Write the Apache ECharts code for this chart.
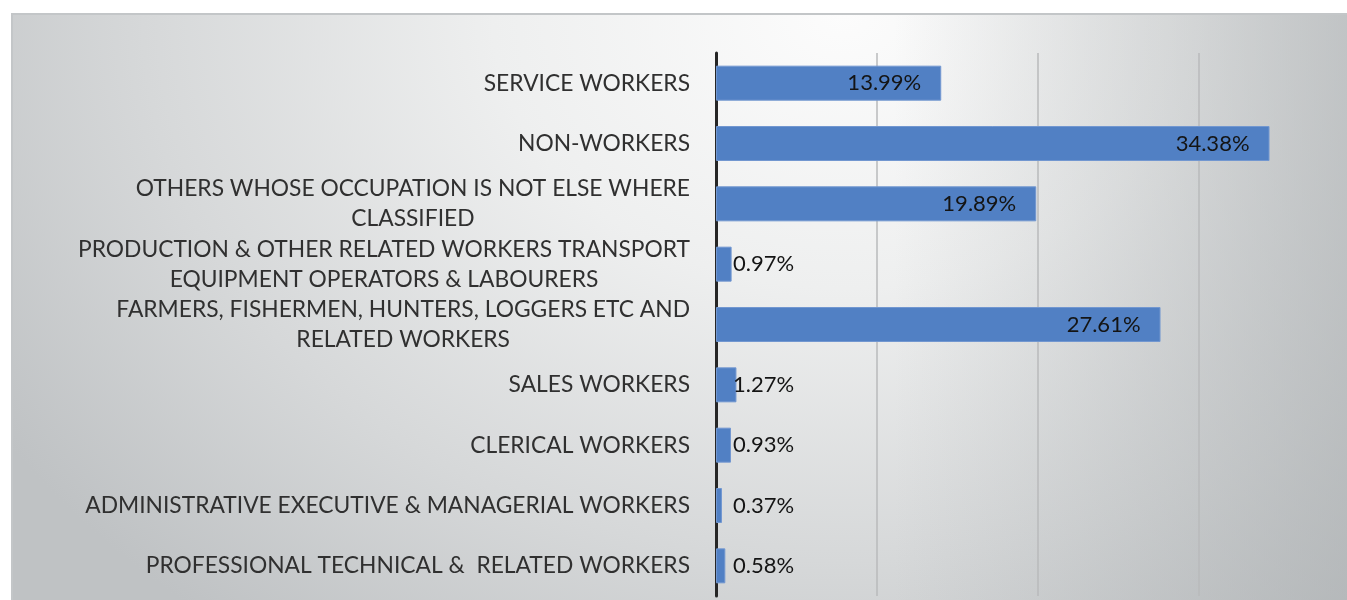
<!DOCTYPE html>
<html>
<head>
<meta charset="utf-8">
<script src="https://cdn.jsdelivr.net/npm/echarts@6/dist/echarts.min.js"></script>
<style>
  html, body { margin: 0; padding: 0; background: #fff; }
  .wrap { position: relative; width: 1347px; height: 600px; overflow: hidden; }
  /* framed plot area with grey radial shading */
  .frame {
    position: absolute; left: 11px; top: 13px; right: 0; bottom: 0;
    border-top: 2px solid #c3c6c8; border-left: 2px solid #c3c6c8;
    background:
      linear-gradient(to right, rgba(170,174,176,0) 66%, rgba(170,174,176,0.6) 100%),
      radial-gradient(ellipse 1000px 780px at 830px 0px, #fcfcfc 0%, #eeefef 35%, #d6d8d9 70%, #bfc2c4 100%);
  }
  #chart { position: absolute; left: 0; top: 0; width: 1347px; height: 600px; }
</style>
</head>
<body>
<div class="wrap">
  <div class="frame"></div>
  <div id="chart"></div>
</div>
<script>
// occupation categories, top to bottom
const categories = [
  'SERVICE WORKERS',
  'NON-WORKERS',
  'OTHERS WHOSE OCCUPATION IS NOT ELSE WHERE\nCLASSIFIED',
  'PRODUCTION & OTHER RELATED WORKERS TRANSPORT\nEQUIPMENT OPERATORS & LABOURERS',
  'FARMERS, FISHERMEN, HUNTERS, LOGGERS ETC AND\nRELATED WORKERS',
  'SALES WORKERS',
  'CLERICAL WORKERS',
  'ADMINISTRATIVE EXECUTIVE & MANAGERIAL WORKERS',
  'PROFESSIONAL TECHNICAL &  RELATED WORKERS'
]
// share of population, %
const shares = [13.99, 34.38, 19.89, 0.97, 27.61, 1.27, 0.93, 0.37, 0.58]
const axisMax = 40
const axisStep = 10

const chart = echarts.init(document.getElementById('chart'), null, { renderer: 'canvas' })

const barData = shares.map(v => ({
  value: v,
  label: v >= 5
    ? { position: 'insideRight', distance: 20 }
    : { position: 'insideLeft', distance: 17 }
}))

chart.setOption({
  backgroundColor: 'transparent',
  animation: false,
  grid: {
    left: 716, top: 53, width: 644, height: 543,
    containLabel: false, outerBoundsMode: 'none'
  },
  xAxis: {
    type: 'value',
    min: 0, max: axisMax, interval: axisStep,
    axisLabel: { show: false },
    axisLine: { show: false },
    axisTick: { show: false },
    splitLine: { show: true, lineStyle: { color: '#b8babb', width: 1.5 } }
  },
  yAxis: {
    type: 'category',
    inverse: true,
    data: categories,
    axisLine: { show: true, lineStyle: { color: '#262626', width: 3 } },
    axisTick: { show: false },
    axisLabel: {
      interval: 0,
      margin: 26,
      align: 'right',
      color: '#303030',
      fontFamily: 'Lato',
      fontSize: 22.8,
      lineHeight: 30,
      formatter: val => val.split('\n').map(l => '{c|' + l + '}').join('\n'),
      rich: {
        c: { align: 'center', color: '#303030', fontFamily: 'Lato', fontSize: 22.8, lineHeight: 30 }
      }
    }
  },
  series: [{
    type: 'bar',
    data: barData,
    barWidth: 35,
    itemStyle: { color: '#5180c4', borderColor: '#7297d0', borderWidth: 1 },
    label: {
      show: true,
      color: '#141414',
      fontFamily: 'Lato',
      fontSize: 22,
      formatter: p => p.value.toFixed(2) + '%'
    }
  }]
})
</script>
</body>
</html>
